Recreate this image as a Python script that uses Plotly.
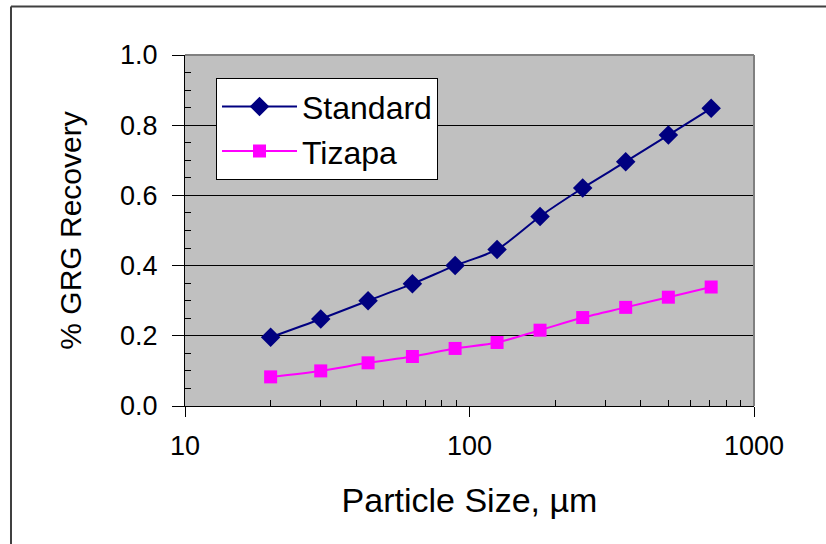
import plotly.graph_objects as go

sizes = [20, 30, 44, 63, 89, 125, 177, 250, 354, 500, 707]
standard = [0.196, 0.248, 0.300, 0.348, 0.400, 0.446, 0.540, 0.621, 0.696, 0.772, 0.848]
tizapa = [0.083, 0.100, 0.123, 0.141, 0.164, 0.181, 0.216, 0.252, 0.281, 0.310, 0.339]

x_ticks = [10, 100, 1000]
x_tick_labels = ["10", "100", "1000"]
x_minor = [20, 30, 40, 50, 60, 70, 80, 90, 200, 300, 400, 500, 600, 700, 800, 900]

FONT = "Liberation Sans, Arial, sans-serif"

fig = go.Figure()
fig.add_trace(go.Scatter(
    x=sizes, y=standard, name="Standard", mode="lines+markers", legendgroup="a",
    line=dict(color="#000080", width=2, shape="spline", smoothing=0.8),
    marker=dict(symbol="diamond", size=15, color="#000080"),
))
fig.add_trace(go.Scatter(
    x=sizes, y=tizapa, name="Tizapa", mode="lines+markers", legendgroup="b",
    line=dict(color="#FF00FF", width=2, shape="spline", smoothing=0.8),
    marker=dict(symbol="square", size=13, color="#FF00FF"),
))

border = dict(color="#404040", width=2)

fig.update_layout(
    width=826, height=544,
    margin=dict(l=185, r=72, t=55, b=138),
    paper_bgcolor="white", plot_bgcolor="#C0C0C0",
    font=dict(family=FONT, size=27, color="black"),
    showlegend=True,
    legend=dict(
        x=0.0545, y=0.934, xanchor="left", yanchor="top",
        bgcolor="white", bordercolor="black", borderwidth=1,
        font=dict(family=FONT, size=32), itemwidth=75, tracegroupgap=0,
    ),
    xaxis=dict(
        type="log", range=[1, 3],
        tickmode="array", tickvals=x_ticks, ticktext=x_tick_labels,
        ticks="outside", ticklen=10, tickcolor="black", tickwidth=1,
        showline=True, linecolor="black", linewidth=1,
        showgrid=False, zeroline=False,
        minor=dict(ticks="inside", ticklen=6, tickcolor="black",
                   tickvals=x_minor, showgrid=False),
        title=dict(text="Particle Size, µm", standoff=27,
                   font=dict(family=FONT, size=34)),
        tickfont=dict(family=FONT, size=27),
        ticklabelstandoff=6,
    ),
    yaxis=dict(
        range=[0, 1.0], dtick=0.2, tickformat=".1f",
        ticks="outside", ticklen=12, tickcolor="black", tickwidth=1,
        showline=True, linecolor="black", linewidth=1,
        showgrid=True, gridcolor="black", gridwidth=1, zeroline=False,
        minor=dict(ticks="inside", ticklen=6, tickcolor="black",
                   dtick=0.05, showgrid=False),
        title=dict(text="% GRG Recovery", standoff=29,
                   font=dict(family=FONT, size=30)),
        tickfont=dict(family=FONT, size=27),
        ticklabelstandoff=9,
    ),
    shapes=[
        dict(type="line", xref="paper", yref="paper", x0=0, x1=1, y0=1, y1=1,
             line=dict(color="#808080", width=2), layer="above"),
        dict(type="line", xref="paper", yref="paper", x0=1, x1=1, y0=0, y1=1,
             line=dict(color="#808080", width=2), layer="above"),
        dict(type="line", xref="paper", yref="paper",
             x0=-0.3058, x1=1.14, y0=1.138, y1=1.138, line=border, layer="above"),
        dict(type="line", xref="paper", yref="paper",
             x0=-0.3058, x1=-0.3058, y0=-0.42, y1=1.138, line=border, layer="above"),
    ],
)

fig.write_html("out.html", config={"displayModeBar": False},
               post_script="document.body.style.margin='0px';")
